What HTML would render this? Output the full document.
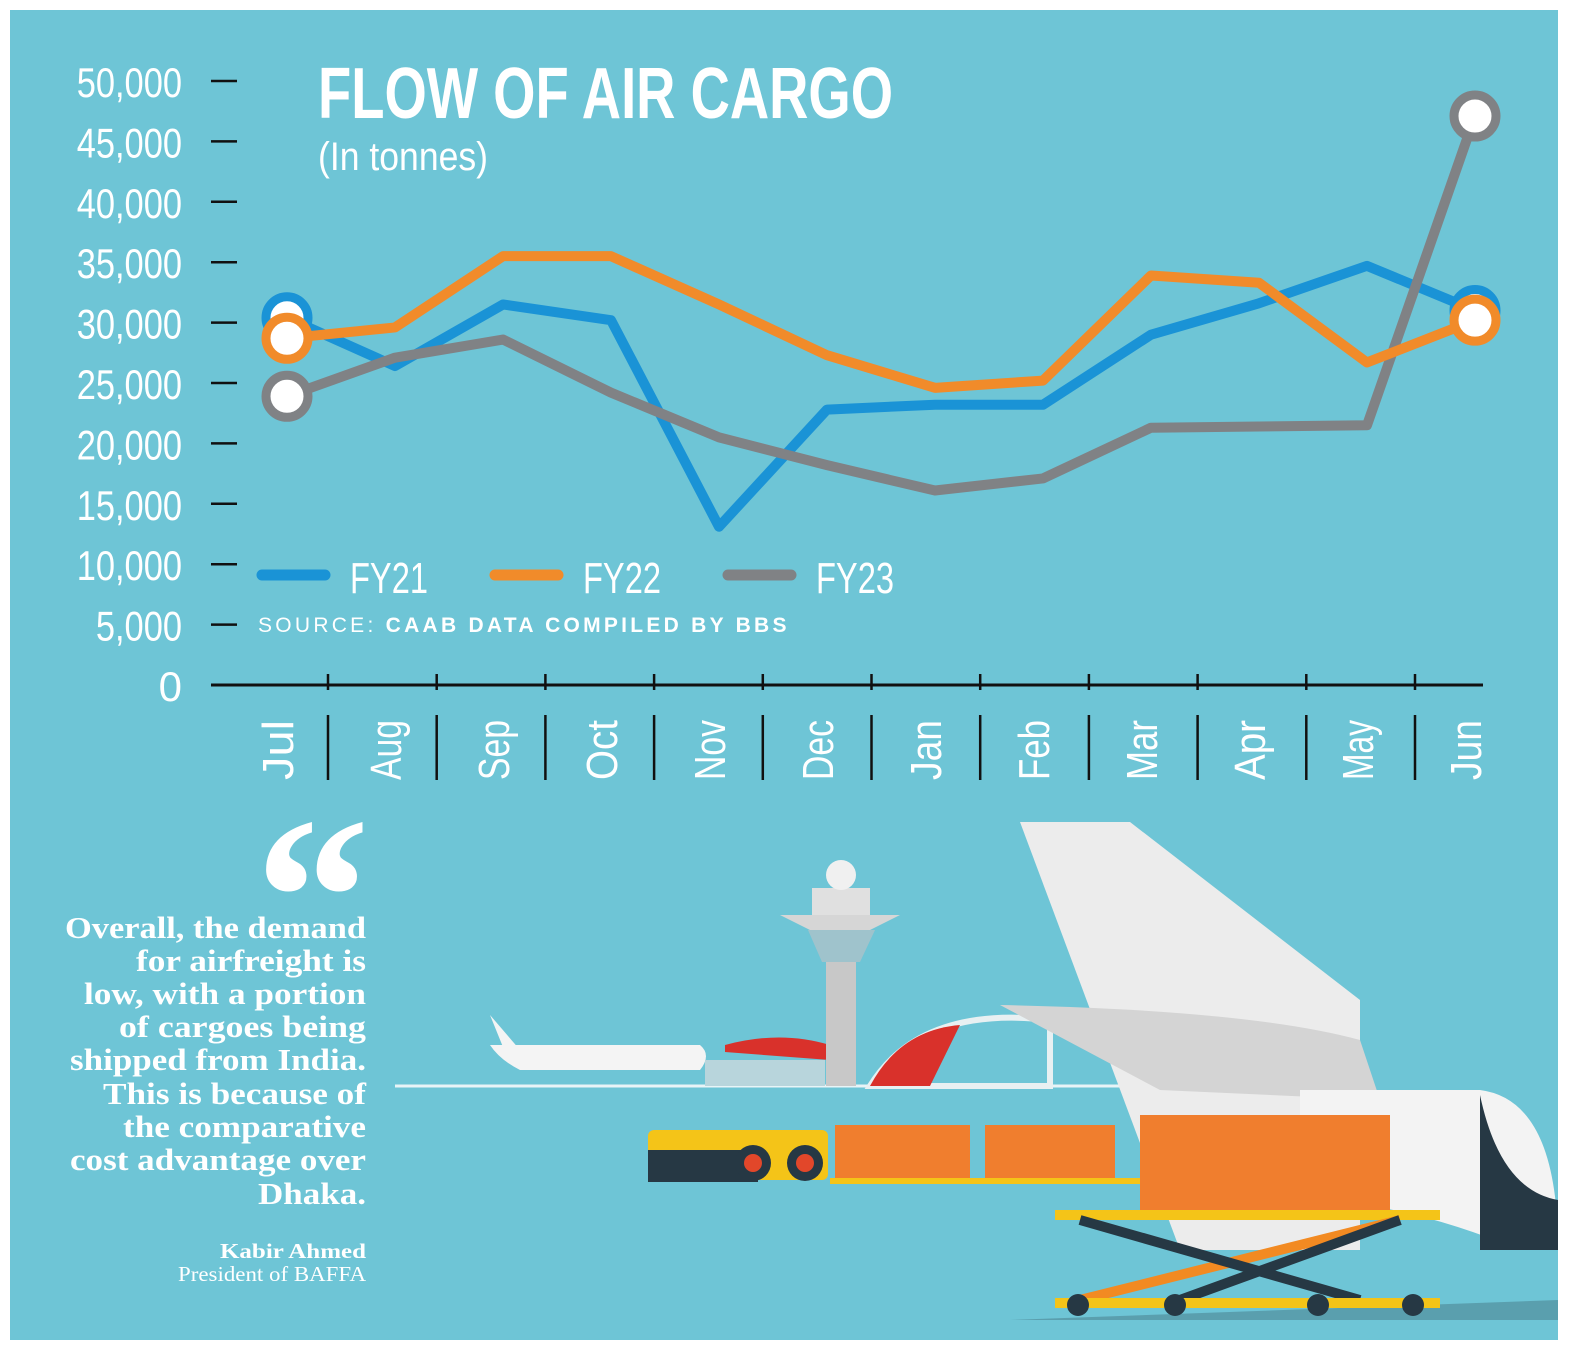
<!DOCTYPE html>
<html><head><meta charset="utf-8"><style>
html,body{margin:0;padding:0;background:#fff;}
svg{display:block;}
</style></head><body>
<svg id="chart" width="1571" height="1350" viewBox="0 0 1571 1350" xmlns="http://www.w3.org/2000/svg">
<rect x="10" y="10" width="1548" height="1330" fill="#6ec5d6"/>
<g>
<text x="318" y="118" fill="#fff" font-family="Liberation Sans, sans-serif" font-weight="bold" font-size="72" textLength="575" lengthAdjust="spacingAndGlyphs">FLOW OF AIR CARGO</text>
<text x="318" y="170" fill="#fff" font-family="Liberation Sans, sans-serif" font-size="40" textLength="170" lengthAdjust="spacingAndGlyphs">(In tonnes)</text>
</g>
<g id="yaxis"></g>
<g id="xaxis"></g>
<g id="series"></g>
<g font-family="Liberation Sans, sans-serif" fill="#fff" font-size="44">
<g><line x1="262" y1="575" x2="325" y2="575" stroke="#1a93d6" stroke-width="11" stroke-linecap="round"/><text x="350" y="593" textLength="78" lengthAdjust="spacingAndGlyphs">FY21</text></g>
<g><line x1="495" y1="575" x2="558" y2="575" stroke="#f18b2a" stroke-width="11" stroke-linecap="round"/><text x="583" y="593" textLength="78" lengthAdjust="spacingAndGlyphs">FY22</text></g>
<g><line x1="728" y1="575" x2="791" y2="575" stroke="#808285" stroke-width="11" stroke-linecap="round"/><text x="816" y="593" textLength="78" lengthAdjust="spacingAndGlyphs">FY23</text></g>
</g>
<text x="258" y="632" fill="#fff" font-family="Liberation Sans, sans-serif" font-size="21" letter-spacing="1.5" textLength="530" lengthAdjust="spacing">SOURCE: <tspan font-weight="bold">CAAB DATA COMPILED BY BBS</tspan></text>

<g font-family="Liberation Serif, serif" fill="#fff" text-anchor="end">
<text x="370" y="975" font-size="230" font-weight="bold">“</text>
<g font-weight="bold" font-size="31" lengthAdjust="spacingAndGlyphs">
<text x="366" y="938" textLength="301" lengthAdjust="spacingAndGlyphs">Overall, the demand</text>
<text x="366" y="971" textLength="230" lengthAdjust="spacingAndGlyphs">for airfreight is</text>
<text x="366" y="1004" textLength="282" lengthAdjust="spacingAndGlyphs">low, with a portion</text>
<text x="366" y="1037" textLength="247" lengthAdjust="spacingAndGlyphs">of cargoes being</text>
<text x="366" y="1070" textLength="296" lengthAdjust="spacingAndGlyphs">shipped from India.</text>
<text x="366" y="1104" textLength="263" lengthAdjust="spacingAndGlyphs">This is because of</text>
<text x="366" y="1137" textLength="243" lengthAdjust="spacingAndGlyphs">the comparative</text>
<text x="366" y="1170" textLength="296" lengthAdjust="spacingAndGlyphs">cost advantage over</text>
<text x="366" y="1204" textLength="108" lengthAdjust="spacingAndGlyphs">Dhaka.</text>
</g>
<text x="366" y="1258" font-size="21" font-weight="bold" textLength="146" lengthAdjust="spacingAndGlyphs">Kabir Ahmed</text>
<text x="366" y="1281" font-size="21" textLength="188" lengthAdjust="spacingAndGlyphs">President of BAFFA</text>
</g>

<g>
<line x1="395" y1="1086" x2="1200" y2="1086" stroke="#e8f4f7" stroke-width="3"/>
<path d="M1010 1320 L1558 1300 L1558 1320 Z" fill="#5a9fae"/>
<path d="M490 1045 L700 1045 Q712 1055 700 1070 L520 1070 Q500 1060 490 1045 Z" fill="#f4f4f4"/>
<path d="M490 1015 L520 1050 L505 1052 Z" fill="#f4f4f4"/>
<rect x="705" y="1060" width="120" height="26" fill="#b8d5dc"/>
<path d="M725 1045 Q780 1030 830 1045 L830 1060 L725 1052 Z" fill="#d9312b"/>
<path d="M870 1086 Q920 1005 1050 1020 L1050 1086 Z" fill="none" stroke="#e8f0f2" stroke-width="6"/>
<path d="M870 1086 Q900 1030 960 1025 L930 1086 Z" fill="#d9312b"/>
<rect x="826" y="940" width="30" height="146" fill="#c8c8c8"/>
<path d="M780 915 L900 915 L870 930 L810 930 Z" fill="#d6d6d6"/>
<path d="M808 930 L875 930 L860 962 L822 962 Z" fill="#9fc3cc"/>
<rect x="812" y="888" width="58" height="27" fill="#e0e0e0"/>
<circle cx="841" cy="875" r="15" fill="#f0f0f0"/>
<path d="M1020 822 L1130 822 L1360 1000 L1360 1250 L1180 1250 Z" fill="#ececec"/>
<path d="M1000 1005 Q1250 1010 1360 1040 L1380 1100 L1160 1090 Z" fill="#d4d4d4"/>
<path d="M1300 1090 L1480 1090 Q1558 1100 1558 1250 L1520 1250 Q1400 1200 1300 1200 Z" fill="#f3f3f3"/>
<path d="M1390 1095 L1480 1095 L1480 1250 Q1520 1250 1558 1250 L1558 1200 Q1500 1190 1480 1095 Z" fill="#263844"/>
<rect x="648" y="1130" width="180" height="50" rx="6" fill="#f4c418"/>
<rect x="648" y="1150" width="110" height="32" fill="#263844"/>
<circle cx="753" cy="1163" r="18" fill="#263844"/><circle cx="753" cy="1163" r="9" fill="#e2472a"/>
<circle cx="805" cy="1163" r="18" fill="#263844"/><circle cx="805" cy="1163" r="9" fill="#e2472a"/>
<rect x="835" y="1125" width="135" height="55" fill="#f07e2e"/>
<rect x="985" y="1125" width="130" height="55" fill="#f07e2e"/>
<rect x="1140" y="1115" width="250" height="95" fill="#f07e2e"/>
<rect x="830" y="1178" width="310" height="6" fill="#f4c418"/>
<rect x="1055" y="1210" width="385" height="10" fill="#f4c418"/>
<line x1="1080" y1="1300" x2="1400" y2="1220" stroke="#f28a22" stroke-width="10"/>
<line x1="1180" y1="1300" x2="1400" y2="1220" stroke="#263844" stroke-width="10"/>
<line x1="1080" y1="1220" x2="1360" y2="1300" stroke="#263844" stroke-width="10"/>
<rect x="1055" y="1298" width="385" height="10" fill="#f4c418"/>
<circle cx="1078" cy="1305" r="11" fill="#263844"/><circle cx="1175" cy="1305" r="11" fill="#263844"/>
<circle cx="1318" cy="1305" r="11" fill="#263844"/><circle cx="1413" cy="1305" r="11" fill="#263844"/>
</g>
<script>
const months = ['Jul','Aug','Sep','Oct','Nov','Dec','Jan','Feb','Mar','Apr','May','Jun'];
const fy21 = [30400,26400,31500,30200,13100,22800,23200,23200,29000,31600,34700,31000];
const fy22 = [28700,29600,35500,35500,31500,27300,24600,25200,33900,33300,26700,30200];
const fy23 = [23900,27100,28600,24200,20500,18200,16100,17100,21300,21400,21500,47100];
const yTicks = [0,5000,10000,15000,20000,25000,30000,35000,40000,45000,50000];
const NS='http://www.w3.org/2000/svg';
const y = v => 685 - v*(685-81)/50000;
const x = i => 287 + i*108;
const sep = i => 328 + (i-1)*108.7;
function mk(tag, attrs, parent){const e=document.createElementNS(NS,tag);for(const k in attrs)e.setAttribute(k,attrs[k]);parent.appendChild(e);return e;}
const ya=document.getElementById('yaxis'), xa=document.getElementById('xaxis'), sg=document.getElementById('series');
yTicks.forEach(v=>{
  const t=mk('text',{x:182,y:y(v)+16,'text-anchor':'end',fill:'#fff','font-family':'Liberation Sans, sans-serif','font-size':42},ya);
  
  
  t.textContent=v===0?'0':v.toLocaleString('en-US');
  if(v!==0) t.setAttribute('transform',`translate(182 0) scale(0.82 1) translate(-182 0)`);
  if(v>0){const l=mk('line',{x1:211,x2:237,y1:y(v),y2:y(v),stroke:'#111','stroke-width':2.5},ya);
  
  }
});
const base=mk('line',{x1:211,x2:1483,y1:685,y2:685,stroke:'#111','stroke-width':3},xa);


months.forEach((m,i)=>{
  if(i>0){
    const tx=sep(i);
    const t1=mk('line',{x1:tx,x2:tx,y1:674,y2:690,stroke:'#111','stroke-width':2.5},xa);
    
    
    const t2=mk('line',{x1:tx,x2:tx,y1:715,y2:780,stroke:'#111','stroke-width':2.5},xa);
    
    
  }
  const t=mk('text',{transform:`translate(${x(i)+6} 720) rotate(-90)`,'text-anchor':'end',fill:'#fff','font-family':'Liberation Sans, sans-serif','font-size':44,textLength:m.length*20,lengthAdjust:'spacingAndGlyphs'},xa);
  
  
  t.textContent=m;
});
function drawSeries(vals,color,name){
  const pts=vals.map((v,i)=>x(i)+','+y(v)).join(' ');
  const p=mk('polyline',{points:pts,fill:'none',stroke:color,'stroke-width':10,'stroke-linejoin':'round'},sg);
  
  
  [0,vals.length-1].forEach(i=>{
    const c=mk('circle',{cx:x(i),cy:y(vals[i]),r:21,fill:'#fff',stroke:color,'stroke-width':9},sg);
    
    
  });
}
drawSeries(fy21,'#1a93d6','fy21');
drawSeries(fy23,'#808285','fy23');
drawSeries(fy22,'#f18b2a','fy22');
</script>
</svg>
</body></html>
